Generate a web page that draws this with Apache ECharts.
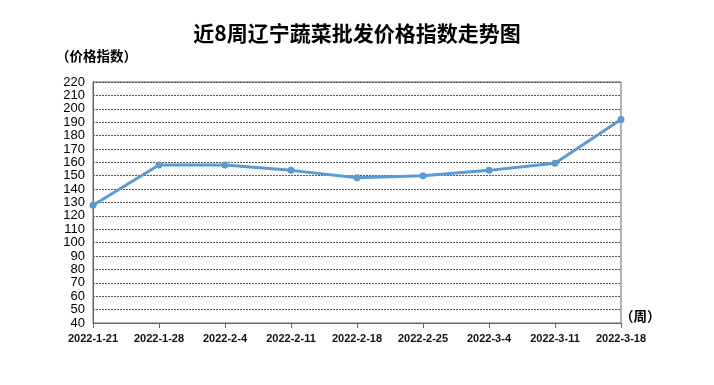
<!DOCTYPE html>
<html>
<head>
<meta charset="utf-8">
<script src="https://cdn.jsdelivr.net/npm/echarts@6/dist/echarts.min.js"></script>
<style>
html,body{margin:0;padding:0;background:#fff;}
#c{width:714px;height:385px;}
</style>
</head>
<body>
<div id="c"></div>
<script>
var titleText = '近8周辽宁蔬菜批发价格指数走势图';
var yName = '（价格指数）';
var xName = '（周）';
var categories = ['2022-1-21','2022-1-28','2022-2-4','2022-2-11','2022-2-18','2022-2-25','2022-3-4','2022-3-11','2022-3-18'];
var values = [128, 158, 158, 154, 148.4, 150, 154, 159.4, 192];
var yMin = 40, yMax = 220, yStep = 10;

var chart = echarts.init(document.getElementById('c'), null, {renderer: 'canvas'});
chart.setOption({
  animation: false,
  backgroundColor: '#fff',
  title: {
    text: titleText,
    left: 'center',
    top: 18,
    textStyle: {fontFamily: 'Noto Sans CJK SC', fontWeight: 'bold', fontSize: 21, color: '#000'}
  },
  graphic: [
    {type: 'text', left: 56, top: 49, style: {text: yName, fontFamily: 'Noto Sans CJK SC', fontWeight: 'bold', fontSize: 13.5, fill: '#000'}},
    {type: 'text', left: 620, top: 309, style: {text: xName, fontFamily: 'Noto Sans CJK SC', fontWeight: 'bold', fontSize: 13.5, fill: '#000'}}
  ],
  grid: {left: 93, right: 93, top: 82, bottom: 62, show: true, borderColor: '#666', borderWidth: 1},
  xAxis: {
    type: 'category',
    data: categories,
    boundaryGap: false,
    axisLine: {show: true, lineStyle: {color: '#666', width: 1}},
    axisTick: {show: true, alignWithLabel: true, length: 5, lineStyle: {color: '#666'}},
    axisLabel: {fontFamily: 'Liberation Sans', fontWeight: 'bold', fontSize: 11, color: '#111', margin: 10, interval: 0},
    splitLine: {show: false}
  },
  yAxis: {
    type: 'value',
    min: yMin, max: yMax, interval: yStep,
    axisLine: {show: true, lineStyle: {color: '#666', width: 1}},
    axisTick: {show: false},
    axisLabel: {fontFamily: 'Liberation Sans', fontSize: 13, color: '#000', margin: 8},
    splitLine: {show: true, lineStyle: {color: '#555', type: [2, 1], width: 1}}
  },
  series: [{
    type: 'line',
    data: values,
    symbol: 'circle',
    symbolSize: 7,
    itemStyle: {color: '#5B9BD5'},
    lineStyle: {color: '#5B9BD5', width: 3},
    label: {show: false}
  }]
});
</script>
</body>
</html>
